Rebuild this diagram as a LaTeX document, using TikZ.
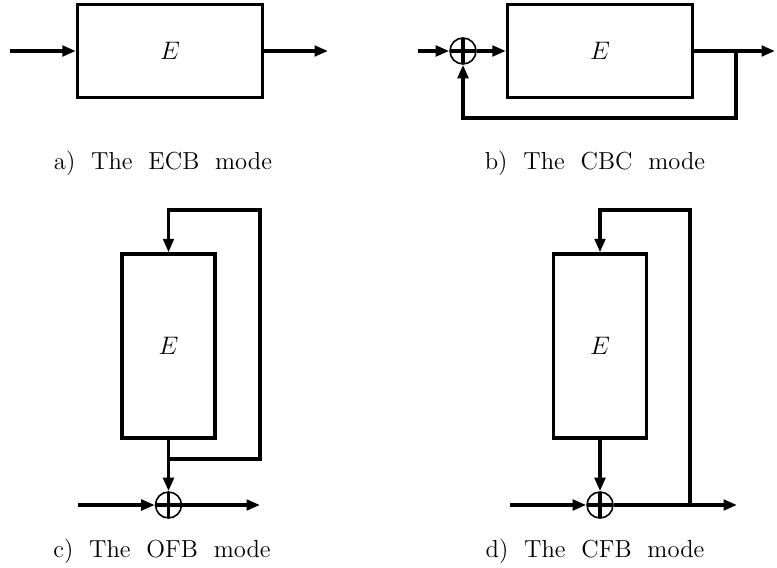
\documentclass[tikz,border=0pt]{standalone}
\usepackage{tikz}
\usetikzlibrary{arrows.meta, positioning, calc}
\newcommand{\modefont}{\fontsize{14}{17}\selectfont\spaceskip=9pt plus 1pt\relax}

\begin{document}
\begin{tikzpicture}[line width=1.9pt, >={Triangle[length=0.27cm, width=0.21cm]},
    blk/.style={draw, minimum width=3.7cm, minimum height=1.86cm, font=\fontsize{14}{17}\selectfont},
    vblk/.style={draw, minimum width=1.86cm, minimum height=3.68cm, font=\fontsize{14}{17}\selectfont},
    xor/.style={draw, circle, minimum size=0.52cm, inner sep=0pt, line width=0.9pt,
        path picture={\draw[line width=1.9pt] (path picture bounding box.north) -- (path picture bounding box.south)
            (path picture bounding box.west) -- (path picture bounding box.east);}},
    modelabel/.style={anchor=base, font=\modefont}]
    \useasboundingbox (0, 0) rectangle (15.54, 11.34);

    % ECB
    \node[blk] (ea) at (3.4, 10.32) {$E$};
    \coordinate (ina) at (0.2, 10.32);
    \coordinate (outa) at (6.56, 10.32);
    \draw[->] (ina) -- (ea);
    \draw[->] (ea) -- (outa);
    \node[modelabel] (la) at (3.26, 7.94) {a) The ECB mode};

    % CBC
    \node[xor] (xb) at (9.26, 10.32) {};
    \node[blk] (eb) at (12.0, 10.32) {$E$};
    \coordinate (inb) at (8.36, 10.32);
    \coordinate (outb) at (15.5, 10.32);
    \coordinate (tapb) at (14.72, 10.32);
    \coordinate (fbb) at (14.72, 8.98);
    \draw[->] (inb) -- (xb);
    \draw[->] (xb) -- (eb);
    \draw[->] (eb) -- (outb);
    \draw[->] (tapb) -- (fbb) -| (xb);
    \node[modelabel] (lb) at (11.9, 7.94) {b) The CBC mode};

    % OFB
    \node[vblk] (ec) at (3.37, 4.42) {$E$};
    \node[xor] (xc) at (3.37, 1.24) {};
    \coordinate (inc) at (1.56, 1.24);
    \coordinate (outc) at (5.2, 1.24);
    \coordinate (fbc) at (5.2, 2.16);
    \coordinate (topc) at (5.2, 7.14);
    \draw[->] (ec.south |- fbc) -- (fbc) -- (topc) -| (ec);
    \draw[->] (ec) -- (xc);
    \draw[->] (inc) -- (xc);
    \draw[->] (xc) -- (outc);
    \node[modelabel] (lc) at (3.24, 0.2) {c) The OFB mode};

    % CFB
    \node[vblk] (ed) at (12.0, 4.42) {$E$};
    \node[xor] (xd) at (12.0, 1.24) {};
    \coordinate (ind) at (10.2, 1.24);
    \coordinate (outd) at (14.74, 1.24);
    \coordinate (tapd) at (13.8, 1.24);
    \coordinate (topd) at (13.8, 7.14);
    \draw[->] (tapd) -- (topd) -| (ed);
    \draw[->] (ed) -- (xd);
    \draw[->] (ind) -- (xd);
    \draw[->] (xd) -- (outd);
    \node[modelabel] (ld) at (11.9, 0.2) {d) The CFB mode};
\end{tikzpicture}
\end{document}
